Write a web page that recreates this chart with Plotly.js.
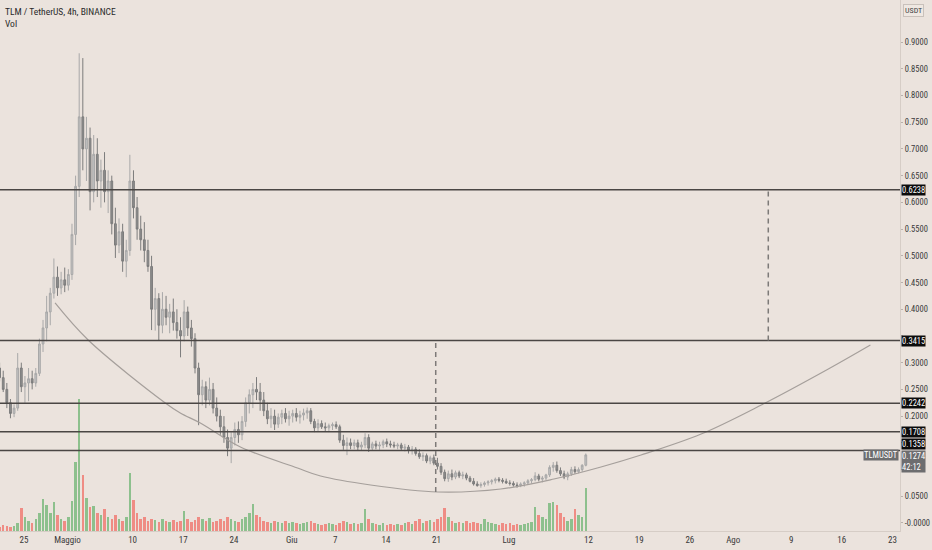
<!DOCTYPE html>
<html>
<head>
<meta charset="utf-8">
<script src="https://cdn.plot.ly/plotly-3.0.1.min.js"></script>
<style>
html,body{margin:0;padding:0;background:#ebe3dd;}
#chart{width:932px;height:550px;}
</style>
</head>
<body>
<div id="chart"></div>
<script>
// ---- DATA (12h candles, TLM/USDT) ----
const candleStart = '2021-04-21T03:00:00Z';
const candleStepHours = 12;

const openP = [
.300,.290,.272,.250,.225,.205,.215,.290,.255,.262,
.270,.262,.280,.335,.365,.395,.430,.460,.440,.455,
.445,.465,.540,.630,.760,.700,.720,.620,.690,.640,
.660,.620,.640,.560,.520,.545,.490,.510,.640,.590,
.550,.530,.510,.480,.400,.420,.370,.400,.385,.395,
.375,.360,.350,.395,.365,.345,.290,.240,.255,.230,
.250,.215,.200,.180,.160,.140,.160,.175,.165,.190,
.225,.240,.250,.245,.230,.210,.195,.200,.185,.198,
.205,.195,.200,.205,.198,.202,.206,.210,.190,.178,
.186,.180,.178,.182,.184,.180,.155,.145,.150,.145,
.150,.142,.146,.160,.140,.148,.144,.146,.152,.148,
.146,.144,.146,.140,.142,.136,.138,.130,.124,.126,
.116,.122,.112,.106,.095,.083,.092,.086,.094,.088,
.090,.084,.078,.073,.070,.072,.075,.077,.079,.082,
.080,.078,.075,.074,.071,.070,.073,.075,.079,.081,
.088,.082,.084,.090,.104,.108,.098,.092,.086,.092,
.100,.096,.100,.108];

const highP = [
.312,.300,.285,.262,.232,.222,.318,.300,.275,.290,
.285,.290,.345,.380,.425,.440,.495,.480,.470,.478,
.475,.560,.650,.879,.870,.760,.740,.726,.720,.680,
.694,.660,.650,.590,.570,.560,.530,.689,.660,.610,
.575,.563,.530,.500,.440,.430,.432,.425,.410,.420,
.400,.385,.417,.405,.380,.355,.300,.268,.265,.272,
.262,.235,.212,.200,.175,.170,.188,.190,.200,.235,
.250,.262,.273,.262,.245,.225,.215,.212,.205,.212,
.215,.210,.212,.215,.210,.214,.216,.215,.195,.194,
.192,.188,.186,.188,.190,.184,.165,.160,.158,.156,
.156,.152,.168,.166,.152,.154,.152,.156,.158,.154,
.152,.150,.150,.148,.146,.144,.142,.138,.132,.130,
.126,.128,.122,.112,.100,.098,.100,.098,.098,.096,
.094,.088,.084,.078,.076,.078,.080,.082,.085,.086,
.084,.083,.080,.078,.076,.076,.078,.082,.084,.095,
.092,.088,.092,.108,.114,.115,.104,.098,.096,.105,
.106,.104,.110,.130];

const lowP = [
.285,.265,.245,.215,.196,.198,.210,.245,.225,.228,
.250,.255,.275,.320,.340,.370,.420,.425,.428,.432,
.435,.455,.520,.610,.660,.640,.585,.600,.610,.590,
.600,.580,.540,.496,.505,.470,.460,.500,.570,.530,
.510,.488,.470,.361,.360,.342,.355,.370,.355,.360,
.345,.310,.340,.350,.330,.280,.183,.220,.215,.220,
.205,.190,.165,.150,.125,.112,.145,.150,.155,.180,
.205,.215,.230,.210,.200,.185,.178,.174,.178,.185,
.188,.182,.188,.190,.186,.192,.195,.185,.170,.172,
.176,.172,.170,.174,.176,.150,.137,.127,.138,.138,
.136,.136,.140,.133,.135,.138,.137,.140,.142,.141,
.140,.138,.136,.134,.130,.128,.126,.120,.116,.112,
.110,.108,.100,.090,.078,.077,.080,.082,.084,.082,
.080,.076,.070,.068,.066,.068,.070,.072,.074,.076,
.074,.073,.070,.068,.066,.067,.068,.071,.074,.078,
.078,.076,.080,.086,.096,.094,.088,.082,.080,.088,
.092,.093,.096,.106];

const closeP = [
.290,.272,.250,.225,.205,.215,.290,.255,.262,.270,
.262,.280,.335,.365,.395,.430,.460,.440,.455,.445,
.465,.540,.630,.760,.700,.720,.620,.690,.640,.660,
.620,.640,.560,.520,.545,.490,.510,.640,.590,.550,
.530,.510,.480,.400,.420,.370,.400,.385,.395,.375,
.360,.350,.395,.365,.345,.290,.240,.255,.230,.250,
.215,.200,.180,.160,.140,.160,.175,.165,.190,.225,
.240,.250,.245,.230,.210,.195,.200,.185,.198,.205,
.195,.200,.205,.198,.202,.206,.210,.190,.178,.186,
.180,.178,.182,.184,.180,.155,.145,.150,.145,.150,
.142,.146,.160,.140,.148,.144,.146,.152,.148,.146,
.144,.146,.140,.142,.136,.138,.130,.124,.126,.116,
.122,.112,.106,.095,.083,.092,.086,.094,.088,.090,
.084,.078,.073,.070,.072,.075,.077,.079,.082,.080,
.078,.075,.074,.071,.070,.073,.075,.079,.081,.088,
.082,.084,.090,.104,.108,.098,.092,.086,.092,.100,
.096,.100,.108,.1274];

// volume, millions of TLM (estimated)
const volumeM = [
5,4,6,5,4,5,8,23,14,10,
8,12,18,32,26,18,29,16,12,10,
14,30,69,132,56,33,24,25,18,16,
22,14,12,16,12,10,14,58,31,18,
12,14,10,12,11,9,12,10,9,11,
9,10,20,12,9,11,14,12,10,13,
9,10,12,10,14,12,10,9,12,14,
18,27,16,14,10,9,8,10,9,8,
10,8,9,8,7,8,9,10,8,7,
6,7,8,7,6,8,10,9,7,8,
7,8,22,12,8,7,6,8,6,7,
6,7,6,8,9,7,10,12,8,10,
11,9,12,14,23,14,10,8,9,8,
10,8,9,8,7,12,9,8,7,6,
8,7,8,6,7,6,7,8,9,24,
16,14,12,28,29,26,18,14,10,12,
22,16,14,43];

// drawn levels (horizontal lines)
const levels = [0.6238, 0.3415, 0.2242, 0.1708, 0.1358];
const lastPrice = 0.1274;
const countdown = '42:12';

// rounded-bottom arc drawing
const arcDates = ['2021-04-29 07:00','2021-05-03 20:40','2021-05-14 12:30','2021-05-16 14:10','2021-05-19 08:40','2021-05-24 21:40','2021-06-01 19:00','2021-06-04 23:20','2021-06-11 21:20','2021-06-21 03:50','2021-06-29 21:00','2021-07-07 05:20','2021-07-13 17:20','2021-07-19 06:15','2021-07-27 13:30','2021-08-04 21:00','2021-08-14 03:20','2021-08-19 22:50'];
const arcPrices = [0.4117,0.3424,0.2246,0.2058,0.1871,0.1422,0.1029,0.0879,0.0711,0.0580,0.0636,0.0823,0.1048,0.1272,0.1665,0.2208,0.2882,0.3331];

// dashed measure lines
const measureDates = ['2021-06-20 21:20','2021-08-05 20:10'];
const measureTop = [0.3415, 0.6238];
const measureBottom = [0.058, 0.3415];

// axes (labels hidden behind the price boxes are left blank)
const xTickVals = ['2021-04-25','2021-05-01','2021-05-10','2021-05-17','2021-05-24','2021-06-01','2021-06-07','2021-06-14','2021-06-21','2021-07-01','2021-07-12','2021-07-19','2021-07-26','2021-08-01','2021-08-09','2021-08-16','2021-08-23'];
const xTickText = ['25','Maggio','10','17','24','Giu','7','14','21','Lug','12','19','26','Ago','9','16','23'];
const yTickVals = [0,0.05,0.1,0.15,0.2,0.25,0.3,0.35,0.4,0.45,0.5,0.55,0.6,0.65,0.7,0.75,0.8,0.85,0.9];
const yTickText = ['-0.0000','0.0500','','','0.2000','0.2500','0.3000','','0.4000','0.4500','0.5000','0.5500','0.6000','0.6500','0.7000','0.7500','0.8000','0.8500','0.9000'];

// ---- BUILD ----
const t0 = new Date(candleStart).getTime();
const times = openP.map((_, i) => new Date(t0 + i * candleStepHours * 3600e3).toISOString());
const volColors = openP.map((o, i) => closeP[i] >= o ? '#8dc08d' : '#ef8c84');

const FONT = 'Liberation Sans Narrow, Roboto Condensed, DejaVu Sans Condensed, Liberation Sans, sans-serif';

const traces = [
  {
    type: 'bar', x: times, y: volumeM, yaxis: 'y2',
    marker: {color: volColors, line: {width: 0}},
    width: candleStepHours * 3600e3 * 0.7,
    hoverinfo: 'skip', showlegend: false
  },
  {
    type: 'candlestick', x: times, open: openP, high: highP, low: lowP, close: closeP,
    increasing: {line: {color: '#a8a8a8', width: 1}, fillcolor: '#c2c2c2'},
    decreasing: {line: {color: '#7c7c7c', width: 1}, fillcolor: '#8e8e8e'},
    whiskerwidth: 0, showlegend: false, hoverinfo: 'skip'
  },
  {
    type: 'scatter', mode: 'lines', x: arcDates, y: arcPrices,
    line: {color: '#a59f9b', width: 1.2, shape: 'spline', smoothing: 1},
    hoverinfo: 'skip', showlegend: false
  }
];

const shapes = [];
levels.forEach(v => shapes.push({
  type: 'line', xref: 'paper', x0: 0, x1: 1, yref: 'y', y0: v, y1: v,
  line: {color: '#4a4644', width: 1.5}
}));
measureDates.forEach((d, i) => shapes.push({
  type: 'line', xref: 'x', x0: d, x1: d, yref: 'y', y0: measureBottom[i], y1: measureTop[i],
  line: {color: '#7d7a78', width: 1.5, dash: '5px,4px'}
}));

const annotations = [
  {xref: 'paper', yref: 'paper', x: 0, y: 1, xanchor: 'left', yanchor: 'top', xshift: 3, yshift: -4,
   text: 'TLM / TetherUS, 4h, BINANCE', showarrow: false, font: {family: FONT, size: 9.5, color: '#2a2a2a'}},
  {xref: 'paper', yref: 'paper', x: 0, y: 1, xanchor: 'left', yanchor: 'top', xshift: 3, yshift: -16,
   text: 'Vol', showarrow: false, font: {family: FONT, size: 9.5, color: '#2a2a2a'}},
  {xref: 'paper', yref: 'paper', x: 1, y: 1, xanchor: 'left', yanchor: 'top', xshift: 3, yshift: -4,
   text: 'USDT', showarrow: false, bgcolor: '#efe8e2', bordercolor: '#c9c1bb', borderwidth: 1, borderpad: 1,
   font: {family: FONT, size: 8, color: '#444'}}
];
levels.forEach((v, i) => annotations.push({
  xref: 'paper', yref: 'y', x: 1, y: v, xanchor: 'left', yanchor: 'middle', xshift: 1,
  yshift: (v === 0.1358 ? 6 : 0),
  text: v.toFixed(4), showarrow: false, bgcolor: '#0c0c0c', borderpad: 0,
  font: {family: FONT, size: 8.5, color: '#ffffff'}
}));
annotations.push({
  xref: 'paper', yref: 'y', x: 1, y: lastPrice, xanchor: 'left', yanchor: 'top', xshift: 1, yshift: 5,
  text: lastPrice.toFixed(4) + '<br>' + countdown, showarrow: false, bgcolor: '#6d6d6f', borderpad: 0,
  align: 'left', font: {family: FONT, size: 8.5, color: '#ffffff'}
});
annotations.push({
  xref: 'paper', yref: 'y', x: 1, y: lastPrice, xanchor: 'right', yanchor: 'middle', xshift: -1,
  text: 'TLMUSDT', showarrow: false, bgcolor: '#6d6d6f', borderpad: 0,
  font: {family: FONT, size: 8.5, color: '#ffffff'}
});

const layout = {
  width: 932, height: 550,
  paper_bgcolor: '#ebe3dd', plot_bgcolor: '#ebe3dd',
  margin: {l: 0, r: 32, t: 0, b: 19, pad: 0},
  showlegend: false,
  font: {family: FONT, size: 8.5, color: '#3a3a3a'},
  xaxis: {
    type: 'date', range: ['2021-04-21 16:20', '2021-08-24 01:00'],
    rangeslider: {visible: false}, showgrid: false, zeroline: false,
    showline: true, linecolor: '#d6cdc6', linewidth: 1,
    tickmode: 'array', tickvals: xTickVals, ticktext: xTickText,
    ticks: '', tickfont: {family: FONT, size: 9, color: '#3a3a3a'}, fixedrange: true
  },
  yaxis: {
    side: 'right', range: [-0.0150, 0.9787], showgrid: false, zeroline: false,
    showline: true, linecolor: '#d6cdc6', linewidth: 1,
    tickmode: 'array', tickvals: yTickVals, ticktext: yTickText,
    ticks: 'outside', ticklen: 2, tickcolor: '#b9b1ab',
    tickfont: {family: FONT, size: 8.5, color: '#3a3a3a'}, fixedrange: true
  },
  yaxis2: {
    overlaying: 'y', side: 'left', range: [0, 531], visible: false, fixedrange: true
  },
  shapes: shapes,
  annotations: annotations,
  bargap: 0
};

Plotly.newPlot('chart', traces, layout, {displayModeBar: false, staticPlot: true});
</script>
</body>
</html>
